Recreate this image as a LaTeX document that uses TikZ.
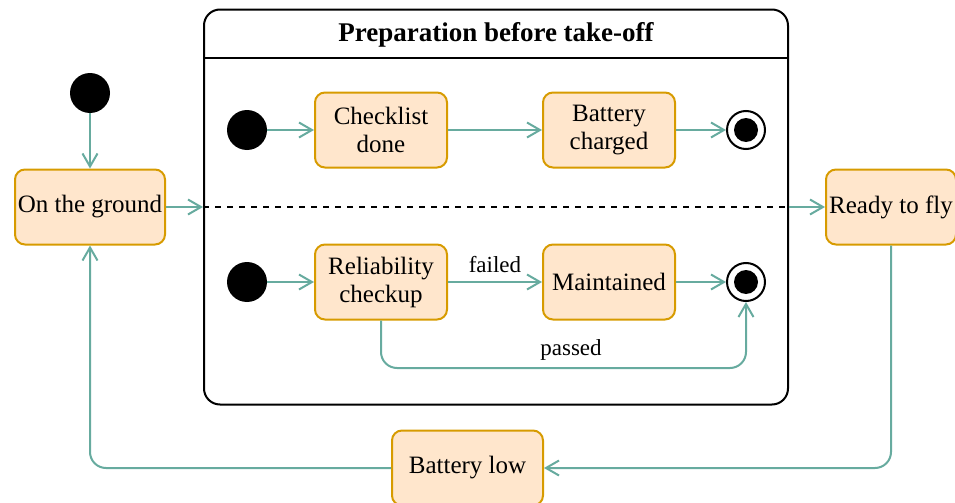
\documentclass[tikz,border=0pt]{standalone}
\usepackage{fontspec}
\setmainfont{Liberation Serif}
\usepackage{tikz}
\usetikzlibrary{arrows.meta}

\definecolor{statefill}{HTML}{FFE6CC}
\definecolor{stateline}{HTML}{D79B00}
\definecolor{flowcol}{HTML}{67AB9F}

\begin{document}
\begin{tikzpicture}[x=0.5pt, y=-0.5pt,
        every node/.style={font=\fontsize{12.5}{14}\selectfont},
        state/.style={draw=stateline, fill=statefill, line width=1pt, rounded corners=5pt,
            align=center, inner sep=0pt, minimum height=37.5pt},
        init/.style={circle, fill=black, inner sep=0pt, minimum size=20pt},
        final/.style={circle, draw=black, line width=1pt, inner sep=0pt, minimum size=19pt,
            path picture={\fill (path picture bounding box.center) circle (6pt);}},
        flow/.style={draw=flowcol, line width=1pt, -{Straight Barb[length=6.5pt, width=7.5pt]}},
        lbl/.style={font=\fontsize{11.5}{13}\selectfont}]
        \useasboundingbox (0,0) rectangle (955,503);

        % composite state
        \node[draw, line width=1pt, rounded corners=8pt, minimum width=292pt, minimum height=197.5pt] (prep) at (496,207) {};
        \node[font=\fontsize{13.5}{15}\selectfont\bfseries] (title) at (496,35) {Preparation before take-off};
        \draw[line width=1pt] (prep.west |- 0,58) -- (prep.east |- 0,58);
        \draw[line width=1pt, dashed] (prep.west) -- (prep.east);

        % outer states
        \node[init] (start) at (90,93) {};
        \node[state, minimum width=75pt] (ground) at (90,207) {On the ground};
        \node[state, minimum width=65pt] (ready) at (891,207) {Ready to fly};
        \node[state, minimum width=75.5pt] (low) at (467.5,468) {Battery low};

        % upper region
        \node[init] (i1) at (247,130) {};
        \node[state, minimum width=66pt] (check) at (381,130) {Checklist\\done};
        \node[state, minimum width=66pt] (charged) at (609,130) {Battery\\charged};
        \node[final] (f1) at (746,130) {};

        % lower region
        \node[init] (i2) at (247,282) {};
        \node[state, minimum width=66pt] (rel) at (381,282) {Reliability\\checkup};
        \node[state, minimum width=66pt] (maint) at (609,282) {Maintained};
        \node[final] (f2) at (746,282) {};

        \draw[flow] (start) -- (ground);
        \draw[flow] (ground) -- (prep.west);
        \draw[flow] (prep.east) -- (ready);
        \draw[flow, rounded corners=8pt] (ready.south) |- (low.east);
        \draw[flow, rounded corners=8pt] (low.west) -| (ground.south);

        \draw[flow] (i1) -- (check);
        \draw[flow] (check) -- (charged);
        \draw[flow] (charged) -- (f1);
        \draw[flow] (i2) -- (rel);
        \draw[flow] (rel) -- node[lbl, above, yshift=1pt] {failed} (maint);
        \draw[flow] (maint) -- (f2);
        \draw[flow, rounded corners=8pt] (rel.south) |- (f2.south |- 0,368) -- (f2.south);
        \node[lbl] (passedlbl) at (571,350) {passed};
    \end{tikzpicture}
\end{document}
